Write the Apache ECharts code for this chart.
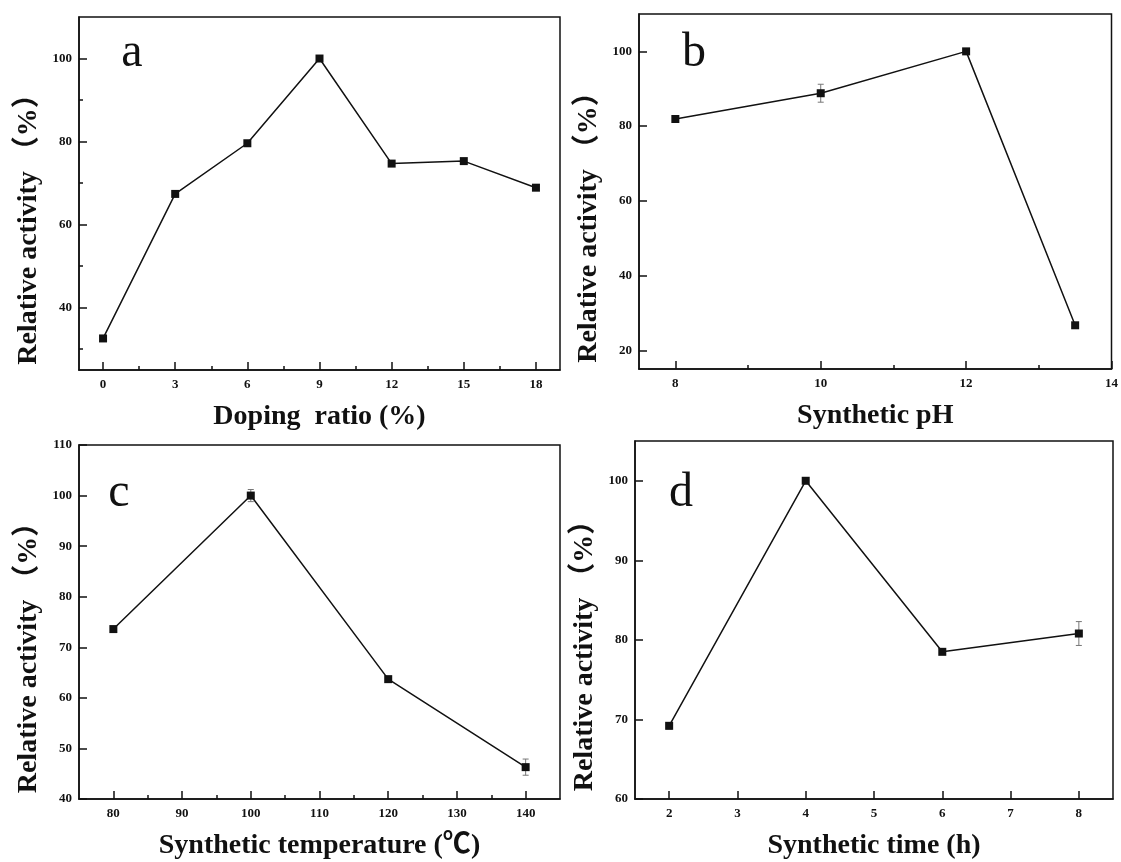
<!DOCTYPE html>
<html>
<head>
<meta charset="utf-8">
<script src="https://cdn.jsdelivr.net/npm/echarts@6/dist/echarts.min.js"></script>
<style>
  html, body { margin: 0; padding: 0; background: #fff; }
  #chart { width: 1121px; height: 862px; }
</style>
</head>
<body>
<div id="chart"></div>
<script>
// panel a: doping ratio
const xA = [0, 3, 6, 9, 12, 15, 18]
const yA = [32.6, 67.4, 79.6, 100, 74.7, 75.3, 68.9]
const errA = [0, 0, 0, 0, 0, 0, 0]
const ticksAX = [0, 3, 6, 9, 12, 15, 18]
const minorAX = [1.5, 4.5, 7.5, 10.5, 13.5, 16.5]
const ticksAY = [40, 60, 80, 100]
const minorAY = [30, 50, 70, 90]

// panel b: synthetic pH
const xB = [8, 10, 12, 13.5]
const yB = [81.9, 88.8, 100, 26.7]
const errB = [0.4, 2.4, 0.3, 0.4]
const ticksBX = [8, 10, 12, 14]
const minorBX = [9, 11, 13]
const ticksBY = [20, 40, 60, 80, 100]
const minorBY = []

// panel c: synthetic temperature
const xC = [80, 100, 120, 140]
const yC = [73.6, 100, 63.7, 46.3]
const errC = [0.3, 1.2, 0.4, 1.6]
const ticksCX = [80, 90, 100, 110, 120, 130, 140]
const minorCX = [85, 95, 105, 115, 125, 135]
const ticksCY = [40, 50, 60, 70, 80, 90, 100, 110]
const minorCY = []

// panel d: synthetic time
const xD = [2, 4, 6, 8]
const yD = [69.2, 100, 78.5, 80.8]
const errD = [0.4, 0.2, 0.3, 1.5]
const ticksDX = [2, 3, 4, 5, 6, 7, 8]
const minorDX = []
const ticksDY = [60, 70, 80, 90, 100]
const minorDY = []

const yTitle = 'Relative activity （%）'

const panels = [
  { grid: { left: 79, top: 17, width: 481, height: 353 }, x: xA, y: yA, err: errA,
    xr: [-1, 19], yr: [25, 110], tx: ticksAX, mx: minorAX, ty: ticksAY, my: minorAY,
    xName: 'Doping  ratio (%)', letter: 'a', lp: [132, 53] },
  { grid: { left: 639, top: 14, width: 474, height: 355 }, x: xB, y: yB, err: errB,
    xr: [7.5, 14], yr: [15, 110], tx: ticksBX, mx: minorBX, ty: ticksBY, my: minorBY,
    xName: 'Synthetic pH', letter: 'b', lp: [694, 53] },
  { grid: { left: 79, top: 445, width: 481, height: 354 }, x: xC, y: yC, err: errC,
    xr: [75, 145], yr: [40, 110], tx: ticksCX, mx: minorCX, ty: ticksCY, my: minorCY,
    xName: 'Synthetic temperature (℃)', letter: 'c', lp: [119, 493] },
  { grid: { left: 635, top: 441, width: 478, height: 358 }, x: xD, y: yD, err: errD,
    xr: [1.5, 8.5], yr: [60, 105], tx: ticksDX, mx: minorDX, ty: ticksDY, my: minorDY,
    xName: 'Synthetic time (h)', letter: 'd', lp: [681, 493] }
]

const ink = '#111'
const labelFont = { fontFamily: 'Liberation Serif', fontWeight: 'bold', fontSize: 13, color: ink }
const nameFont = { fontFamily: '"Liberation Serif", "Noto Sans CJK SC"', fontWeight: 'bold', fontSize: 28, color: ink }

const grids = []
const xAxes = []
const yAxes = []
const series = []
const graphics = []

panels.forEach((p, i) => {
  grids.push({ ...p.grid, show: true, borderColor: ink, borderWidth: 1.5, backgroundColor: 'transparent' })

  const xi = xAxes.length
  xAxes.push({
    type: 'value', gridIndex: i, position: 'bottom', min: p.xr[0], max: p.xr[1],
    axisLine: { onZero: false, lineStyle: { color: ink, width: 1.5 } },
    axisTick: { inside: true, length: 8, customValues: p.tx, lineStyle: { color: ink, width: 1.5 } },
    axisLabel: { customValues: p.tx, margin: 8, ...labelFont },
    splitLine: { show: false },
    name: p.xName, nameLocation: 'middle', nameGap: 33, nameTextStyle: nameFont
  })
  xAxes.push({
    type: 'value', gridIndex: i, position: 'bottom', min: p.xr[0], max: p.xr[1],
    axisLine: { show: false, onZero: false },
    axisTick: { show: p.mx.length > 0, inside: true, length: 4, customValues: p.mx, lineStyle: { color: ink, width: 1.5 } },
    axisLabel: { show: false },
    splitLine: { show: false }
  })

  const yi = yAxes.length
  yAxes.push({
    type: 'value', gridIndex: i, position: 'left', min: p.yr[0], max: p.yr[1],
    axisLine: { show: true, onZero: false, lineStyle: { color: ink, width: 1.5 } },
    axisTick: { show: true, inside: true, length: 8, customValues: p.ty, lineStyle: { color: ink, width: 1.5 } },
    axisLabel: { customValues: p.ty, margin: 7, ...labelFont },
    splitLine: { show: false },
    name: yTitle, nameLocation: 'middle', nameGap: 36,
    nameTextStyle: { ...nameFont, padding: [0, 58, 0, 0] }
  })
  yAxes.push({
    type: 'value', gridIndex: i, position: 'left', min: p.yr[0], max: p.yr[1],
    axisLine: { show: false, onZero: false },
    axisTick: { show: p.my.length > 0, inside: true, length: 4, customValues: p.my, lineStyle: { color: ink, width: 1.5 } },
    axisLabel: { show: false },
    splitLine: { show: false }
  })

  const pts = p.x.map((v, k) => [v, p.y[k]])
  const bars = p.x.map((v, k) => [v, p.y[k], p.err[k]])

  series.push({
    type: 'custom', xAxisIndex: xi, yAxisIndex: yi, data: bars, silent: true, z: 1,
    renderItem: (params, api) => {
      const e = api.value(2)
      if (!e) return null
      const top = api.coord([api.value(0), api.value(1) + e])
      const bot = api.coord([api.value(0), api.value(1) - e])
      const style = { stroke: '#777', lineWidth: 1 }
      return {
        type: 'group',
        children: [
          { type: 'line', shape: { x1: top[0], y1: top[1], x2: bot[0], y2: bot[1] }, style },
          { type: 'line', shape: { x1: top[0] - 3, y1: top[1], x2: top[0] + 3, y2: top[1] }, style },
          { type: 'line', shape: { x1: bot[0] - 3, y1: bot[1], x2: bot[0] + 3, y2: bot[1] }, style }
        ]
      }
    }
  })
  series.push({
    type: 'line', xAxisIndex: xi, yAxisIndex: yi, data: pts, z: 2,
    symbol: 'rect', symbolSize: 8, showSymbol: true,
    itemStyle: { color: ink },
    lineStyle: { color: ink, width: 1.5 },
    animation: false
  })

  graphics.push({
    type: 'text', x: p.lp[0], y: p.lp[1],
    style: { text: p.letter, font: '48px "Liberation Serif"', fill: ink, textAlign: 'center', textVerticalAlign: 'middle' }
  })
})

const chart = echarts.init(document.getElementById('chart'), null, { renderer: 'canvas' })
chart.setOption({
  backgroundColor: '#fff',
  animation: false,
  grid: grids,
  xAxis: xAxes,
  yAxis: yAxes,
  series: series,
  graphic: graphics
})
</script>
</body>
</html>
